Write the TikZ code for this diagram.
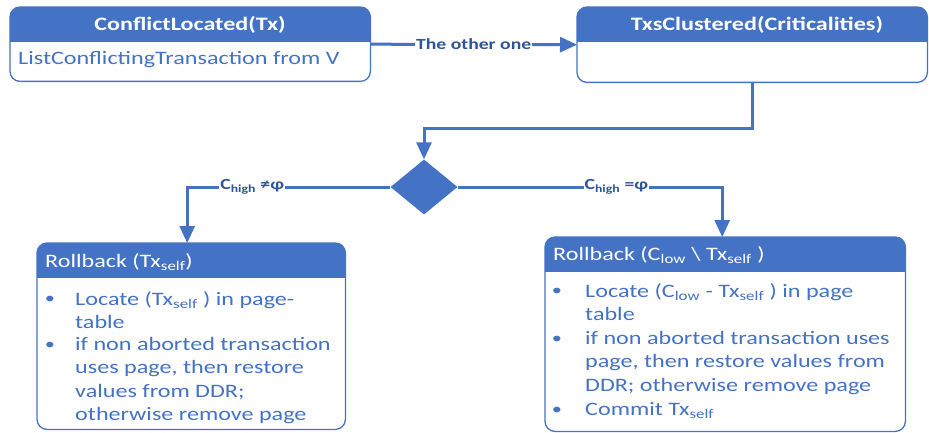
\documentclass[tikz,border=0pt]{standalone}
\usepackage{fontspec}
\setmainfont[FakeStretch=1.27]{Carlito}
\usetikzlibrary{arrows.meta,shapes.geometric}
\definecolor{office}{HTML}{4472C4}
\definecolor{lbl}{HTML}{2F5597}

% fill the header band of a card and redraw its rounded frame
\newcommand\cardhead[2]{%
  \begin{scope}
    \clip[rounded corners=10pt] (#1.north west) rectangle (#1.south east);
    \fill[office] (#1.north west) rectangle ([yshift=-#2pt]#1.north east);
  \end{scope}
  \draw[office, line width=1.3pt, rounded corners=10pt] (#1.north west) rectangle (#1.south east);
}

\begin{document}
\begin{tikzpicture}[x=1pt,y=-1pt,
  card/.style={rectangle, inner sep=0pt, anchor=north west},
  headtext/.style={text=white, inner sep=0pt, font=\fontsize{19}{22}\selectfont\bfseries},
  headplain/.style={text=white, inner sep=0pt, anchor=west, font=\fontsize{19}{23}\selectfont},
  bodytext/.style={text=office, inner sep=0pt, anchor=north west, align=left,
                   font=\fontsize{19}{23.5}\selectfont},
  dot/.style={text=office, inner sep=0pt, font=\fontsize{16}{16}\selectfont},
  flow/.style={draw=office, line width=3pt, -{Triangle[length=17pt,width=15pt]}},
  flowlabel/.style={fill=white, text=lbl, inner sep=1pt, font=\fontsize{15.5}{18}\selectfont\bfseries},
]
\useasboundingbox (0,0) rectangle (929,433);

% cards
\node[card, minimum width=360pt, minimum height=74pt] (cl) at (10,7) {};
\node[card, minimum width=350pt, minimum height=75pt] (tc) at (577,7) {};
\node[card, minimum width=308pt, minimum height=186pt] (rb1) at (37,243) {};
\node[card, minimum width=360pt, minimum height=194pt] (rb2) at (545,237) {};

\cardhead{cl}{35}
\cardhead{tc}{35}
\cardhead{rb1}{35}
\cardhead{rb2}{35}

% card titles
\node[headtext] (clt) at (190,25) {ConflictLocated(Tx)};
\node[headtext] (tct) at (757,25) {TxsClustered(Criticalities)};
\node[headplain] (rb1t) at (45,262) {Rollback (Tx\textsubscript{self})};
\node[headplain] (rb2t) at (553,255) {Rollback (C\textsubscript{low} \textbackslash{} Tx\textsubscript{self} )};

% card bodies
\node[bodytext] (clb) at (18,51) {ListConflictingTransaction from V};

\node[dot] (b11) at (50,300) {•};
\node[bodytext] (t11) at (75,291) {Locate (Tx\textsubscript{self} ) in page-\\table};
\node[dot] (b12) at (50,346) {•};
\node[bodytext] (t12) at (75,337) {if non aborted transaction\\uses page, then restore\\values from DDR;\\otherwise remove page};

\node[dot] (b21) at (557,292) {•};
\node[bodytext] (t21) at (585,283) {Locate (C\textsubscript{low} - Tx\textsubscript{self} ) in page\\table};
\node[dot] (b22) at (557,340) {•};
\node[bodytext] (t22) at (585,331) {if non aborted transaction uses\\page, then restore values from\\DDR; otherwise remove page};
\node[dot] (b23) at (557,411) {•};
\node[bodytext] (t23) at (585,402) {Commit Tx\textsubscript{self}};

% decision
\node[diamond, fill=office, inner sep=0pt, minimum width=67pt, minimum height=55pt] (dec) at (424,187) {};

% connectors
\draw[flow] (cl.east) -- node[flowlabel] {The other one} (tc.west);
\draw[flow] (tc.south) -- ++(0,46) -| (dec.north);
\draw[flow] (dec.west) -| node[flowlabel, pos=0.34] {C\textsubscript{high} ≠φ} ([xshift=-4pt]rb1.north);
\draw[flow] (dec.east) -| node[flowlabel, pos=0.30] {C\textsubscript{high} =φ} ([xshift=-3pt]rb2.north);
\end{tikzpicture}
\end{document}
